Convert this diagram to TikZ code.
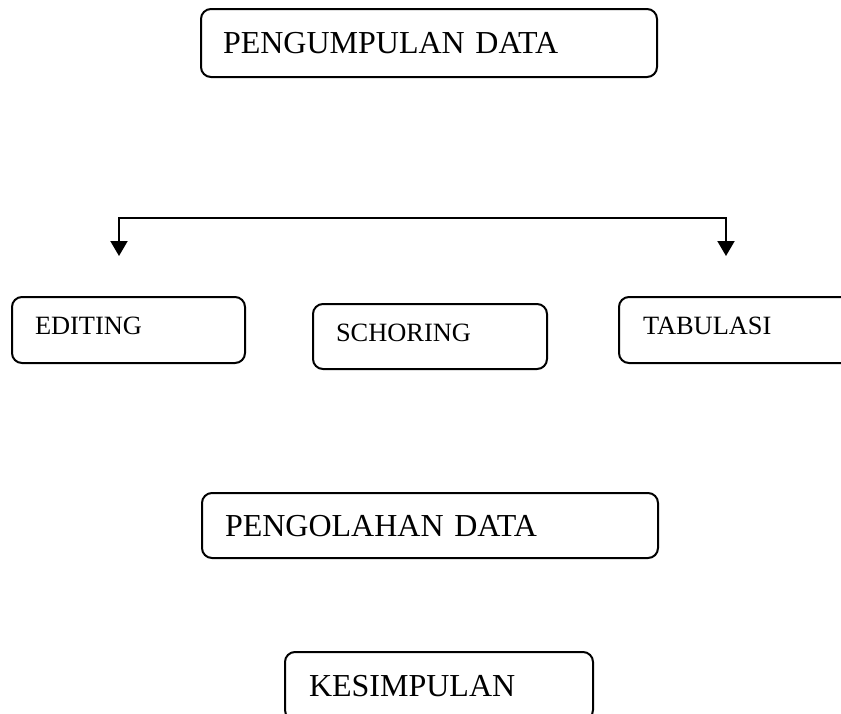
\documentclass[tikz,border=0pt]{standalone}
\usepackage{fontspec}
\setmainfont{Liberation Serif}
\usetikzlibrary{arrows.meta}
\tikzset{>={Triangle[length=15pt,width=17pt]}}
\tikzset{
	kotak/.style={draw, line width=2pt, rounded corners=10pt, anchor=north west, outer sep=0pt,
		align=left, inner xsep=23pt, text height=21pt, text depth=0pt,
		font=\fontsize{32}{38}\selectfont},
	kotakkecil/.style={kotak, text height=17.5pt, text depth=8pt,
		font=\fontsize{26.4}{31}\selectfont}
}

\begin{document}
\begin{tikzpicture}[x=1pt,y=-1pt]
			\useasboundingbox (0,0) rectangle (841,713);
			\clip (0,0) rectangle (841,713);
			
			\node[kotak, inner xsep=22pt, text width=412pt, minimum height=68pt] (kumpul) at (201,9) {PENGUMPULAN DATA};
			
			\coordinate (kiriatas) at (119,218);
			\coordinate (kananatas) at (726,218);
			\coordinate (kiribawah) at (119,256);
			\coordinate (kananbawah) at (726,256);
			\draw[line width=2pt,<->] (kiribawah)--(kiriatas)--(kananatas)--(kananbawah);
			
			\node[kotakkecil, text width=187pt, minimum height=66pt] (editing) at (12,297) {EDITING};
			\node[kotakkecil, text width=188pt, minimum height=65pt] (schoring) at (313,304) {SCHORING};
			\node[kotakkecil, inner xsep=24pt, text width=220pt, minimum height=66pt] (tabulasi) at (619,297) {TABULASI};
			
			\node[kotak, text width=410pt, minimum height=65pt] (olah) at (202,493) {PENGOLAHAN DATA};
			\node[kotak, inner xsep=24pt, text width=260pt, minimum height=68pt] (simpul) at (285,652) {KESIMPULAN};
			
		\end{tikzpicture}
\end{document}
